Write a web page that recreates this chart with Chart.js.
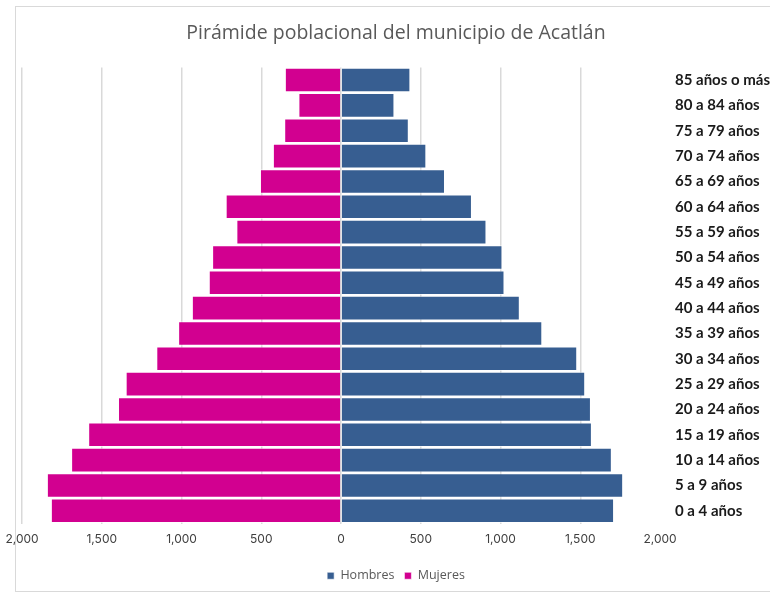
<!DOCTYPE html>
<html>
<head>
<meta charset="utf-8">
<script src="https://cdn.jsdelivr.net/npm/chart.js@4/dist/chart.umd.min.js"></script>
<style>
  html, body { margin: 0; padding: 0; background: #fff; }
  #wrap { position: relative; width: 770px; height: 597px; }
  #frame { position: absolute; left: 15px; top: 6px; width: 770px; height: 586px; border: 1px solid #d9d9d9; box-sizing: border-box; }
  canvas { position: absolute; left: 0; top: 0; }
</style>
</head>
<body>
<div id="wrap">
  <div id="frame"></div>
  <canvas id="chart" width="770" height="597"></canvas>
</div>
<script>
// age groups, from youngest to oldest
const ageGroups = ['0 a 4 años', '5 a 9 años', '10 a 14 años', '15 a 19 años', '20 a 24 años',
    '25 a 29 años', '30 a 34 años', '35 a 39 años', '40 a 44 años', '45 a 49 años',
    '50 a 54 años', '55 a 59 años', '60 a 64 años', '65 a 69 años', '70 a 74 años',
    '75 a 79 años', '80 a 84 años', '85 años o más'];
const hombres = [1712, 1769, 1698, 1573, 1567, 1531, 1481, 1262, 1121, 1025,
    1012, 912, 821, 652, 535, 425, 335, 435];
const mujeres = [1819, 1844, 1692, 1585, 1398, 1350, 1158, 1021, 935, 829,
    808, 656, 723, 508, 427, 356, 267, 352];
const xTicks = [-2000, -1500, -1000, -500, 0, 500, 1000, 1500, 2000];

const fmt = new Intl.NumberFormat('en-US');

const ctx = document.getElementById('chart').getContext('2d');
new Chart(ctx, {
    type: 'bar',
    data: {
        labels: ageGroups,
        datasets: [{
            label: 'Hombres',
            data: hombres,
            backgroundColor: '#375e91',
            borderColor: 'rgba(255,255,255,0.6)',
            borderWidth: 1,
            barPercentage: 0.97,
            categoryPercentage: 1
        }, {
            label: 'Mujeres',
            data: mujeres.map(v => -v), // women to the left
            backgroundColor: '#d20090',
            borderColor: 'rgba(255,255,255,0.6)',
            borderWidth: 1,
            barPercentage: 0.97,
            categoryPercentage: 1
        }]
    },
    options: {
        indexAxis: 'y',
        responsive: false,
        animation: false,
        layout: { padding: { left: 22, right: 0, top: 0, bottom: 5 } },
        scales: {
            x: {
                stacked: true,
                min: -2000,
                max: 2000,
                afterBuildTicks: axis => { axis.ticks = xTicks.map(v => ({ value: v })); },
                afterFit: axis => {
                    axis.height = 36;
                    axis.paddingLeft = 0;
                    axis.paddingRight = 0;
                },
                border: { display: false },
                grid: {
                    drawTicks: false,
                    color: c => (c.tick && c.tick.value === 2000) ? 'rgba(0,0,0,0)' : '#d9d9d9',
                    lineWidth: 1.5
                },
                ticks: {
                    padding: 9,
                    color: '#404040',
                    font: { family: 'Inter', size: 12 },
                    maxRotation: 0,
                    callback: v => fmt.format(Math.abs(v))
                }
            },
            y: {
                stacked: true,
                position: 'right',
                reverse: true,
                afterFit: axis => { axis.width = 110; },
                border: { display: false },
                grid: { display: false },
                ticks: {
                    padding: 7,
                    color: '#1a1a1a',
                    font: { family: 'Lato', size: 15, weight: 'bold' }
                }
            }
        },
        plugins: {
            title: {
                display: true,
                text: 'Pirámide poblacional del municipio de Acatlán',
                color: '#595959',
                font: { family: 'Open Sans', size: 19.5, weight: 'normal' },
                padding: { top: 22, bottom: 22 }
            },
            legend: {
                position: 'bottom',
                labels: {
                    boxWidth: 7,
                    boxHeight: 7,
                    padding: 10,
                    color: '#595959',
                    font: { family: 'Open Sans', size: 12.5 }
                }
            },
            tooltip: {
                callbacks: {
                    label: c => c.dataset.label + ': ' + fmt.format(Math.abs(c.raw))
                }
            }
        }
    }
});
</script>
</body>
</html>
